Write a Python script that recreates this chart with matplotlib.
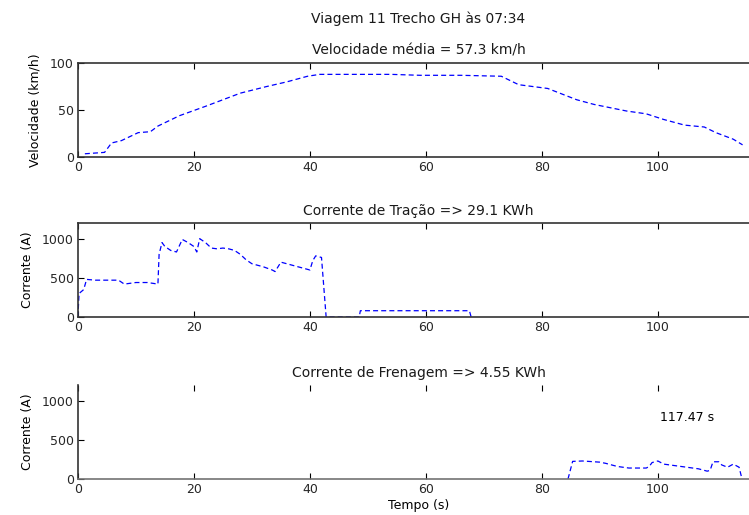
import matplotlib
matplotlib.use("Agg")
import matplotlib.pyplot as plt
import numpy as np

plt.rcParams['font.family'] = ['DejaVu Sans']
plt.rcParams['font.size'] = 9

# Velocidade (km/h)
t_vel = [1.2, 4.6, 5.8, 7.5, 10.4, 12.5, 13.8, 17.5, 22, 25, 28, 32.5, 36, 39.6, 41.7,
         48, 54, 59, 66, 73, 76, 81, 86, 89, 94.6, 98, 101, 104.6, 108, 110, 113, 114.6]
vel = [3.5, 5, 15, 17.5, 26, 27, 33, 44, 54, 61, 68, 75, 80, 86, 88,
       88, 88, 87, 87, 86, 77, 73, 61, 56, 49, 46, 40, 34, 32, 26, 19, 13]

# Corrente de tracao (A)
t_tr = [0, 0.2, 1.0, 1.5, 3, 7, 8, 10, 12, 13.8, 14.0, 14.5, 15, 16, 17, 18, 19, 20,
        20.5, 21, 22, 23, 24, 25, 26, 27, 28, 29, 30, 32, 33.5, 34, 35, 36, 38, 40,
        40.5, 41, 42, 42.8, 43, 48.5, 48.7, 67.5, 67.8]
i_tr = [0, 300, 350, 480, 470, 470, 420, 440, 440, 420, 800, 950, 900, 850, 830, 990,
        950, 900, 830, 1000, 950, 880, 870, 880, 870, 850, 800, 730, 680, 640, 600, 580,
        700, 680, 640, 600, 720, 780, 760, 0, 0, 0, 80, 80, 0]

# Corrente de frenagem (A)
t_fr = [84.5, 85.3, 87, 90, 91, 93, 95, 98, 98.5, 99, 100, 101, 103, 105, 107,
        108.5, 109, 109.5, 110.5, 111, 112, 113, 114, 114.5]
i_fr = [0, 225, 230, 215, 200, 160, 140, 140, 160, 210, 230, 190, 170, 150, 130,
        100, 110, 220, 220, 180, 150, 190, 150, 0]

t_final = 117.47
xticks = [0, 20, 40, 60, 80, 100]

fig = plt.figure(figsize=(7.49, 5.15), dpi=100)
W = t_final * 5.8 / 749
ax1 = fig.add_axes([0.104, 0.695, W, 0.1825])
ax2 = fig.add_axes([0.104, 0.3845, W, 0.1825])
ax3 = fig.add_axes([0.104, 0.0699, W, 0.1825])

line_kw = dict(color='blue', lw=0.9, ls=(0, (4, 2.5)))
ax1.plot(t_vel, vel, **line_kw)
ax2.plot(t_tr, i_tr, **line_kw)
ax3.plot(t_fr, i_fr, **line_kw)

for ax in (ax1, ax2, ax3):
    ax.set_xlim(0, t_final)
    ax.set_xticks(xticks)
    ax.tick_params(direction='in', top=True, right=True, length=4, width=0.8,
                   labelsize=9, pad=3, labelcolor='0.15')
    for s in ax.spines.values():
        s.set_linewidth(1.2)
        s.set_color('0.2')

title_kw = dict(fontsize=10, pad=6, color='0.1')
ax1.set_ylim(0, 100)
ax1.set_yticks([0, 50, 100])
ax1.set_ylabel('Velocidade (km/h)', labelpad=6)
ax1.set_title('Velocidade média = 57.3 km/h', **title_kw)

ax2.set_ylim(0, 1200)
ax2.set_yticks([0, 500, 1000])
ax2.set_ylabel('Corrente (A)', labelpad=6)
ax2.set_title('Corrente de Tração => 29.1 KWh', **title_kw)

ax3.set_ylim(0, 1200)
ax3.set_yticks([0, 500, 1000])
ax3.set_ylabel('Corrente (A)', labelpad=6)
ax3.set_xlabel('Tempo (s)', labelpad=2)
ax3.set_title('Corrente de Frenagem => 4.55 KWh', **title_kw)
ax3.spines['top'].set_visible(False)
ax3.spines['bottom'].set_color('0.45')
ax3.text(100.3, 785, '%.2f s' % t_final, fontsize=9, va='center')

fig.text(0.104 + W / 2, 1 - 19 / 515, 'Viagem 11 Trecho GH às 07:34',
         ha='center', va='center', fontsize=10, color='0.1')

fig.savefig('out.png', dpi=100)
